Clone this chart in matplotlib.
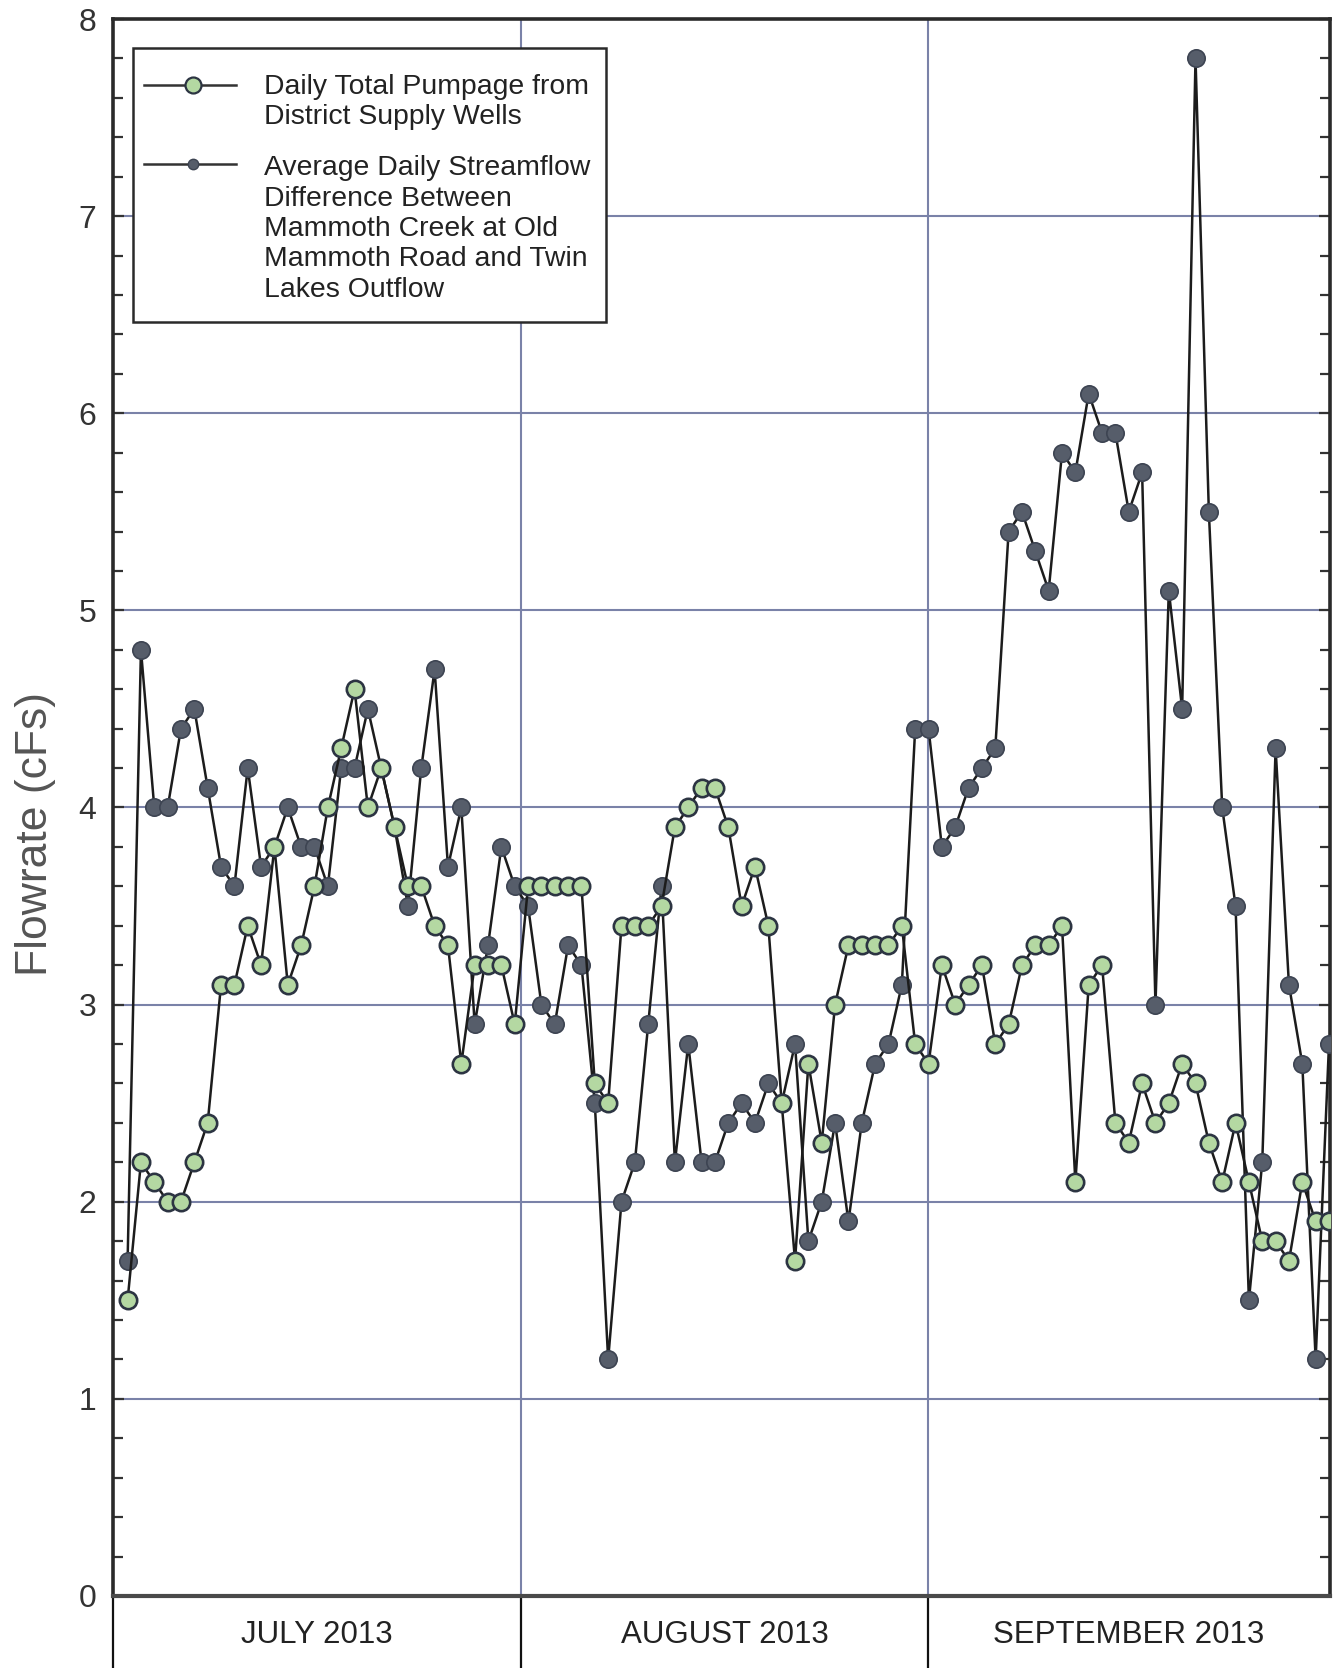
import matplotlib
matplotlib.use("Agg")
import matplotlib.pyplot as plt
import matplotlib.transforms as mtransforms
from matplotlib.patches import Rectangle
from matplotlib.ticker import MultipleLocator

plt.rcParams['font.family'] = ['Liberation Sans', 'DejaVu Sans']

# --- datos (un punto por dia, 1 jul .. 30 sep visibles) ---
pumpage = [
    # julio
    1.5, 2.2, 2.1, 2.0, 2.0, 2.2, 2.4, 3.1, 3.1, 3.4, 3.2, 3.8, 3.1, 3.3, 3.6,
    4.0, 4.3, 4.6, 4.0, 4.2, 3.9, 3.6, 3.6, 3.4, 3.3, 2.7, 3.2, 3.2, 3.2, 2.9,
    # agosto
    3.6, 3.6, 3.6, 3.6, 3.6, 2.6, 2.5, 3.4, 3.4, 3.4, 3.5, 3.9, 4.0, 4.1, 4.1,
    3.9, 3.5, 3.7, 3.4, 2.5, 1.7, 2.7, 2.3, 3.0, 3.3, 3.3, 3.3, 3.3, 3.4, 2.8,
    # septiembre
    2.7, 3.2, 3.0, 3.1, 3.2, 2.8, 2.9, 3.2, 3.3, 3.3, 3.4, 2.1, 3.1, 3.2, 2.4,
    2.3, 2.6, 2.4, 2.5, 2.7, 2.6, 2.3, 2.1, 2.4, 2.1, 1.8, 1.8, 1.7, 2.1, 1.9,
    1.9,
]

streamflow = [
    # julio
    1.7, 4.8, 4.0, 4.0, 4.4, 4.5, 4.1, 3.7, 3.6, 4.2, 3.7, 3.8, 4.0, 3.8, 3.8,
    3.6, 4.2, 4.2, 4.5, 4.2, 3.9, 3.5, 4.2, 4.7, 3.7, 4.0, 2.9, 3.3, 3.8, 3.6,
    # agosto
    3.5, 3.0, 2.9, 3.3, 3.2, 2.5, 1.2, 2.0, 2.2, 2.9, 3.6, 2.2, 2.8, 2.2, 2.2,
    2.4, 2.5, 2.4, 2.6, 2.5, 2.8, 1.8, 2.0, 2.4, 1.9, 2.4, 2.7, 2.8, 3.1, 4.4,
    # septiembre
    4.4, 3.8, 3.9, 4.1, 4.2, 4.3, 5.4, 5.5, 5.3, 5.1, 5.8, 5.7, 6.1, 5.9, 5.9,
    5.5, 5.7, 3.0, 5.1, 4.5, 7.8, 5.5, 4.0, 3.5, 1.5, 2.2, 4.3, 3.1, 2.7, 1.2,
    2.8,
]

days = list(range(len(pumpage)))

month_labels = ["JULY 2013", "AUGUST 2013", "SEPTEMBER 2013"]
month_edges = [-1.09, 29.48, 59.96, 90.07]

label_pump = "Daily Total Pumpage from\nDistrict Supply Wells"
label_flow = ("Average Daily Streamflow\nDifference Between\n"
              "Mammoth Creek at Old\nMammoth Road and Twin\nLakes Outflow")

green = '#b4d8a2'
dark_fill = '#565d6a'
edge = '#2c3442'
grid_c = '#7a82a8'
line_c = '#1c1c1c'

fig = plt.figure(figsize=(13.33, 16.68), dpi=100)
ax = fig.add_axes([0.0848, 0.0432, 0.9129, 0.9454])

# lineas de cuadricula
for yv in range(1, 8):
    ax.axhline(yv, color=grid_c, lw=1.5, zorder=1)
for xv in month_edges[1:-1]:
    ax.axvline(xv, color=grid_c, lw=1.5, zorder=1)

# series
ax.plot(days, streamflow, color=line_c, lw=1.8, marker='o', markersize=12.5,
        markerfacecolor=dark_fill, markeredgecolor='#3d4452', markeredgewidth=1.2,
        zorder=3)
ax.plot(days, pumpage, color=line_c, lw=1.8, marker='o', markersize=12.5,
        markerfacecolor=green, markeredgecolor=edge, markeredgewidth=1.9,
        zorder=4)

ax.set_xlim(month_edges[0], month_edges[-1])
ax.set_ylim(0, 8)

ax.yaxis.set_major_locator(MultipleLocator(1))
ax.yaxis.set_minor_locator(MultipleLocator(0.2))
ax.tick_params(axis='y', which='both', direction='in', right=True, left=True,
               color='#333333', width=1.6, labelsize=23, labelcolor='#333333', pad=12)
ax.tick_params(axis='y', which='major', length=8)
ax.tick_params(axis='y', which='minor', length=7)
ax.tick_params(axis='x', which='both', bottom=False, labelbottom=False)

for side in ['left', 'right', 'top', 'bottom']:
    ax.spines[side].set_color('#2a2a2a')
    ax.spines[side].set_linewidth(2.6)
ax.spines['bottom'].set_color('#4a4a4a')
ax.spines['bottom'].set_linewidth(3)

ax.set_ylabel("Flowrate (cFs)", fontsize=32, color='#555555', labelpad=16)
ax.yaxis.label.set_y(0.483)

# franja inferior con los meses
trans = mtransforms.blended_transform_factory(ax.transData, ax.transAxes)
for xv in month_edges[:-1]:
    ax.plot([xv, xv], [0, -0.05], transform=trans, color='#111111', lw=1.6,
            clip_on=False)
for i, lab in enumerate(month_labels):
    xc = (month_edges[i] + month_edges[i + 1]) / 2
    ax.text(xc, -0.0247, lab, transform=trans, ha='center', va='center',
            fontsize=22.5, color='#222222')

# leyenda dibujada a mano
ax.add_patch(Rectangle((0.0164, 0.8079), 0.3886, 0.1737, transform=ax.transAxes,
                       facecolor='white', edgecolor='#2a2a2a', lw=1.8, zorder=6))
ax.plot([0.0255, 0.101], [0.9582, 0.9582], transform=ax.transAxes, color='#333333',
        lw=1.8, zorder=7)
ax.plot([0.0653], [0.9582], transform=ax.transAxes, marker='o', markersize=11.5,
        markerfacecolor=green, markeredgecolor=edge, markeredgewidth=1.6, zorder=8)
ax.plot([0.0255, 0.101], [0.908, 0.908], transform=ax.transAxes, color='#333333',
        lw=1.8, zorder=7)
ax.plot([0.0653], [0.908], transform=ax.transAxes, marker='o', markersize=7.5,
        markerfacecolor=dark_fill, markeredgecolor='#3d4452', markeredgewidth=1.0,
        zorder=8)
ax.text(0.124, 0.9472, label_pump, transform=ax.transAxes, ha='left', va='center',
        fontsize=20.4, color='#222222', linespacing=1.22, zorder=8)
ax.text(0.124, 0.8668, label_flow, transform=ax.transAxes, ha='left', va='center',
        fontsize=20.4, color='#222222', linespacing=1.22, zorder=8)

fig.savefig("out.png", dpi=100, facecolor='white')
